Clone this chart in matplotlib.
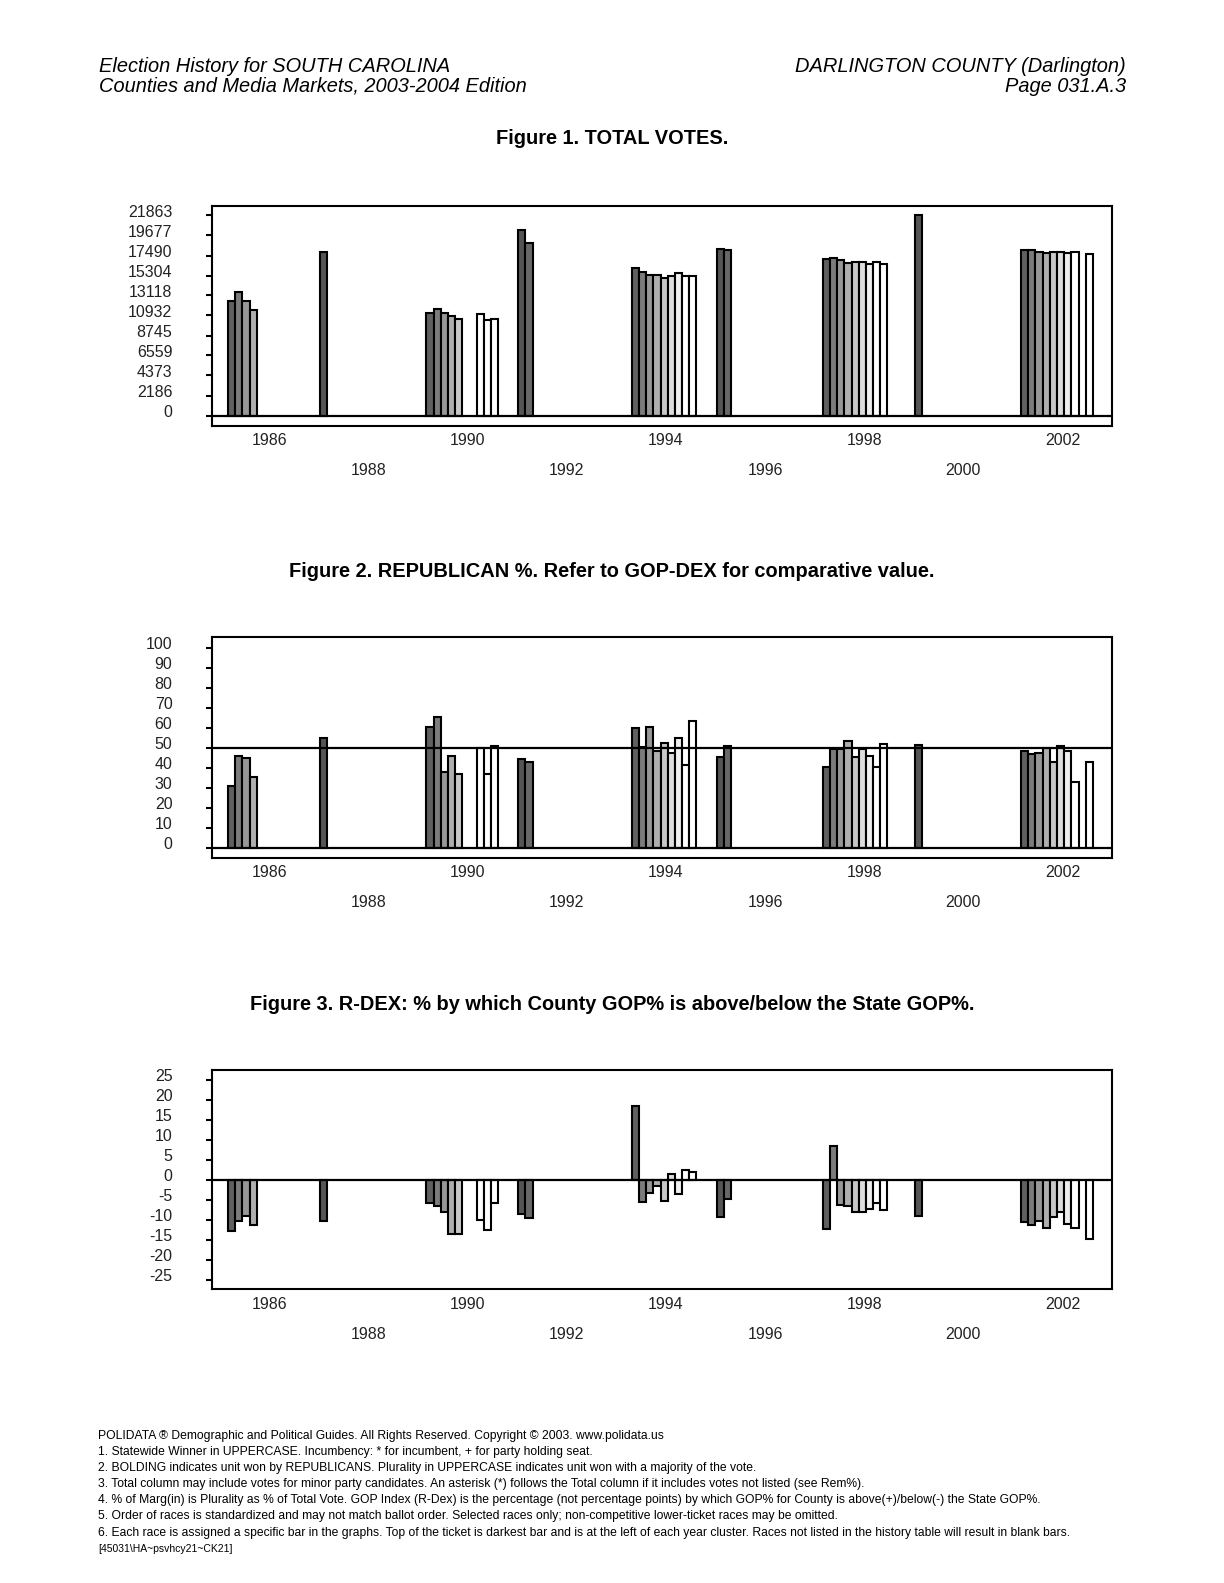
import matplotlib
matplotlib.use('Agg')
import matplotlib.pyplot as plt
from matplotlib.transforms import ScaledTranslation

plt.rcParams['font.family'] = ['Liberation Sans', 'DejaVu Sans']

# Data
years = [1986, 1988, 1990, 1992, 1994, 1996, 1998, 2000, 2002]
pres_years = [1988, 1992, 1996, 2000]

# which race slot each bar occupies inside its year cluster (blank slots are skipped)
race_slots = {
    1986: [1, 2, 3, 4],
    1988: [0],
    1990: [1, 2, 3, 4, 5, 8, 9, 10],
    1992: [0, 1],
    1994: [2, 3, 4, 5, 6, 7, 8, 9, 10],
    1996: [0, 1],
    1998: [1, 2, 3, 4, 5, 6, 7, 8, 9],
    2000: [0],
    2002: [1, 2, 3, 4, 5, 6, 7, 8, 10],
}

total_votes = {
    1986: [12462, 13446, 12462, 11515],
    1988: [17855],
    1990: [11259, 11624, 11259, 10895, 10531, 11041, 10385, 10531],
    1992: [20260, 18839],
    1994: [16106, 15741, 15377, 15377, 15085, 15195, 15523, 15195, 15304],
    1996: [18183, 18037],
    1998: [17090, 17199, 17053, 16652, 16762, 16762, 16543, 16762, 16543],
    2000: [21863],
    2002: [18037, 18146, 17927, 17746, 17855, 17855, 17746, 17855, 17636],
}

gop_pct = {
    1986: [31.0, 46.0, 44.7, 35.2],
    1988: [55.0],
    1990: [60.5, 65.5, 38.0, 46.0, 37.0, 49.8, 36.7, 51.0],
    1992: [44.2, 42.7],
    1994: [60.0, 50.5, 60.5, 48.5, 52.5, 47.5, 55.0, 41.3, 63.2],
    1996: [45.2, 51.0],
    1998: [40.2, 49.5, 49.5, 53.5, 45.5, 49.5, 46.0, 40.2, 52.0],
    2000: [51.5],
    2002: [48.5, 47.0, 47.5, 49.7, 43.0, 51.0, 48.5, 33.0, 43.0],
}

rdex = {
    1986: [-12.8, -10.3, -9.0, -11.3],
    1988: [-10.3],
    1990: [-5.9, -6.5, -8.1, -13.6, -13.6, -10.2, -12.6, -5.8],
    1992: [-8.7, -9.7],
    1994: [18.5, -5.5, -3.4, -1.5, -5.3, 1.5, -3.5, 2.3, 1.9],
    1996: [-9.3, -4.9],
    1998: [-12.4, 8.3, -6.3, -6.6, -8.0, -8.0, -7.3, -5.9, -7.6],
    2000: [-9.0],
    2002: [-10.7, -11.3, -10.3, -12.1, -9.4, -8.2, -11.0, -12.1, -14.8],
}

vote_ticks = [0, 2186, 4373, 6559, 8745, 10932, 13118, 15304, 17490, 19677, 21863]
pct_ticks = [0, 10, 20, 30, 40, 50, 60, 70, 80, 90, 100]
rdex_ticks = [-25, -20, -15, -10, -5, 0, 5, 10, 15, 20, 25]

titles = ['Figure 1. TOTAL VOTES.',
          'Figure 2. REPUBLICAN %. Refer to GOP-DEX for comparative value.',
          'Figure 3. R-DEX: % by which County GOP% is above/below the State GOP%.']

footer = [
    'POLIDATA \u00ae Demographic and Political Guides. All Rights Reserved. Copyright \u00a9 2003. www.polidata.us',
    '1. Statewide Winner in UPPERCASE. Incumbency: * for incumbent, + for party holding seat.',
    '2. BOLDING indicates unit won by REPUBLICANS. Plurality in UPPERCASE indicates unit won with a majority of the vote.',
    '3. Total column may include votes for minor party candidates. An asterisk (*) follows the Total column if it includes votes not listed (see Rem%).',
    '4. % of Marg(in) is Plurality as % of Total Vote. GOP Index (R-Dex) is the percentage (not percentage points) by which GOP% for County is above(+)/below(-) the State GOP%.',
    '5. Order of races is standardized and may not match ballot order. Selected races only; non-competitive lower-ticket races may be omitted.',
    '6. Each race is assigned a specific bar in the graphs. Top of the ticket is darkest bar and is at the left of each year cluster. Races not listed in the history table will result in blank bars.',
]

# Styling / layout
W, H = 1224, 1583
gov_shades = ['#606060', '#7c7c7c', '#979797', '#afafaf', '#c8c8c8', '#dddddd', '#efefef',
              'white', 'white', 'white', 'white']
pres_shades = ['#555555', '#686868']
slot_origin = -0.98
slot_w = 0.145

fig = plt.figure(figsize=(W / 100, H / 100), dpi=100)


def fx(x):
    return x / W


def fy(y):
    return 1 - y / H


def panel(box, values, ylim, ticks, ref=None):
    x0, y0, x1, y1 = box
    ax = fig.add_axes([fx(x0), fy(y1), (x1 - x0) / W, (y1 - y0) / H])
    for yr in years:
        slots = race_slots[yr]
        for k, (s, v) in enumerate(zip(slots, values[yr])):
            if yr in pres_years:
                c = pres_shades[k]
            else:
                c = gov_shades[s - slots[0]]
            ax.bar(yr + slot_origin + s * slot_w, v, width=slot_w, align='edge',
                   color=c, edgecolor='black', linewidth=1.5, zorder=2)
    ax.axhline(0, color='black', lw=1.6, zorder=3)
    if ref is not None:
        ax.axhline(ref, color='black', lw=1.6, zorder=3)
    ax.set_xlim(1984.84, 2003.0)
    ax.set_ylim(*ylim)
    ax.set_xticks([])
    ax.set_yticks(ticks)
    ax.set_yticklabels([str(t) for t in ticks], fontsize=11.5, color='#222222')
    ax.tick_params(axis='y', direction='out', length=4.5, width=1.5, pad=24)
    # labels sit a little above their tick marks in the original
    shift = ScaledTranslation(0, 4.5 / 100, fig.dpi_scale_trans)
    for lab in ax.get_yticklabels():
        lab.set_transform(lab.get_transform() + shift)
    for sp in ax.spines.values():
        sp.set_linewidth(1.5)
    for i, yr in enumerate(range(1986, 2003, 2)):
        off = 15 if i % 2 == 0 else 45
        ax.annotate(str(yr), xy=(yr, 0), xycoords=('data', 'axes fraction'),
                    xytext=(0, -off * 0.72), textcoords='offset points',
                    ha='center', va='center', fontsize=11.5, color='#222222')
    return ax


panel((212, 205.5, 1112, 425.5), total_votes, (-1093, 22956), vote_ticks)
panel((212, 637.3, 1112, 857.7), gop_pct, (-5, 105.2), pct_ticks, ref=50)
panel((212, 1070, 1112, 1289.3), rdex, (-27.4, 27.4), rdex_ticks)

# titles
for t, y in zip(titles, [139, 571, 1004]):
    fig.text(fx(612), fy(y), t, ha='center', va='center', fontsize=14.4, fontweight='bold')

# page header
fig.text(fx(99), fy(66), 'Election History for SOUTH CAROLINA', ha='left', va='center',
         fontsize=14.4, style='italic')
fig.text(fx(99), fy(86), 'Counties and Media Markets, 2003-2004 Edition', ha='left', va='center',
         fontsize=14.4, style='italic')
fig.text(fx(1126), fy(66), 'DARLINGTON COUNTY (Darlington)', ha='right', va='center',
         fontsize=14.4, style='italic')
fig.text(fx(1126), fy(86), 'Page 031.A.3', ha='right', va='center',
         fontsize=14.4, style='italic')

# footer notes
for i, line in enumerate(footer):
    fig.text(fx(98), fy(1436 + i * 16.1), line, ha='left', va='center', fontsize=8.75)
fig.text(fx(98), fy(1549), '[45031\\HA~psvhcy21~CK21]', ha='left', va='center', fontsize=7.5)

plt.savefig('out.png', dpi=100)
